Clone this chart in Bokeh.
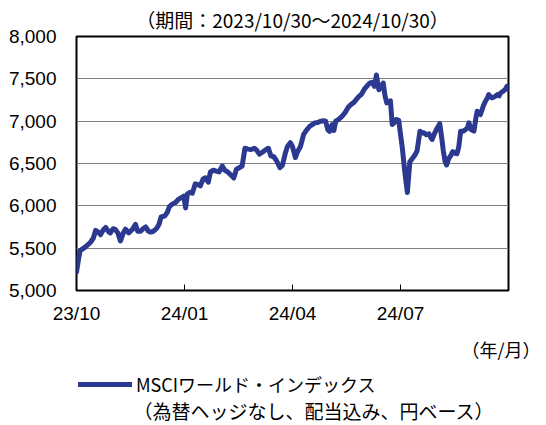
from bokeh.plotting import figure
from bokeh.layouts import column
from bokeh.models import Range1d, FixedTicker, Legend, LegendItem, NumeralTickFormatter, ColumnDataSource, Title, Label
from bokeh.embed import file_html
from bokeh.resources import INLINE

# months elapsed since 2023/10/30
months = [0.00, 0.06, 0.10, 0.25, 0.39, 0.47, 0.53, 0.60, 0.67, 0.75, 0.81, 0.88, 0.94, 1.02, 1.08, 1.15,
          1.22, 1.30, 1.36, 1.45, 1.55, 1.64, 1.70, 1.78, 1.85, 1.92, 2.00, 2.06, 2.14, 2.22, 2.29, 2.35,
          2.45, 2.52, 2.58, 2.66, 2.75, 2.84, 2.92, 2.98, 3.03, 3.08, 3.15, 3.22, 3.30, 3.38, 3.44, 3.52,
          3.58, 3.66, 3.72, 3.80, 3.88, 3.96, 4.05, 4.12, 4.20, 4.30, 4.37, 4.44, 4.52, 4.60, 4.68, 4.76,
          4.85, 4.94, 5.00, 5.08, 5.15, 5.25, 5.33, 5.40, 5.48, 5.56, 5.65, 5.72, 5.80, 5.86, 5.94, 6.00,
          6.08, 6.14, 6.22, 6.31, 6.40, 6.48, 6.55, 6.62, 6.70, 6.78, 6.86, 6.92, 6.98, 7.03, 7.10, 7.15,
          7.20, 7.28, 7.38, 7.46, 7.54, 7.61, 7.70, 7.78, 7.84, 7.92, 8.00, 8.08, 8.15, 8.21, 8.28, 8.33,
          8.40, 8.46, 8.52, 8.57, 8.62, 8.68, 8.72, 8.77, 8.82, 8.88, 8.95, 9.05, 9.12, 9.19, 9.26, 9.33,
          9.40, 9.46, 9.54, 9.60, 9.65, 9.72, 9.79, 9.85, 9.88, 9.94, 10.02, 10.09, 10.14, 10.19, 10.24, 10.28,
          10.34, 10.39, 10.45, 10.52, 10.57, 10.62, 10.67, 10.74, 10.81, 10.86, 10.90, 10.96, 11.04, 11.10, 11.13, 11.18,
          11.22, 11.30, 11.36, 11.42, 11.45, 11.50, 11.55, 11.62, 11.69, 11.74, 11.78, 11.84, 11.87, 11.92, 11.96, 12.00]
msci = [5216, 5380, 5471, 5515, 5570, 5620, 5710, 5690, 5660, 5720, 5745, 5700, 5680, 5730, 5720, 5680,
        5585, 5680, 5725, 5680, 5720, 5780, 5700, 5700, 5730, 5750, 5700, 5690, 5700, 5730, 5780, 5870,
        5880, 5920, 5990, 6020, 6040, 6080, 6100, 6115, 5975, 6140, 6160, 6150, 6260, 6250, 6235, 6320,
        6330, 6280, 6400, 6420, 6410, 6400, 6470, 6420, 6400, 6360, 6330, 6430, 6450, 6470, 6680, 6670,
        6665, 6680, 6660, 6610, 6630, 6660, 6680, 6590, 6580, 6530, 6450, 6480, 6620, 6700, 6745, 6700,
        6570, 6640, 6700, 6843, 6900, 6940, 6960, 6980, 6985, 7000, 7005, 7000, 6900, 6880, 6960, 6890,
        7000, 7020, 7060, 7100, 7160, 7190, 7220, 7260, 7290, 7320, 7380, 7420, 7450, 7460, 7410, 7545,
        7370, 7400, 7450, 7300, 7216, 7230, 7240, 6960, 6980, 7020, 7010, 6686, 6400, 6157, 6520, 6560,
        6600, 6650, 6880, 6860, 6863, 6840, 6850, 6800, 6784, 6850, 6920, 6970, 6820, 6650, 6520, 6482,
        6560, 6588, 6640, 6620, 6616, 6700, 6880, 6880, 6902, 6920, 6980, 6900, 6882, 7050, 7118, 7090,
        7078, 7180, 7235, 7280, 7314, 7290, 7275, 7290, 7314, 7300, 7333, 7350, 7361, 7380, 7412, 7373]

tick_pos = [0, 3, 6, 9]
tick_labels = ["23/10", "24/01", "24/04", "24/07"]
y_ticks = [5000, 5500, 6000, 6500, 7000, 7500, 8000]

title_text = "（期間：2023/10/30～2024/10/30）"
unit_text = "（年/月）"
series_name = "MSCIワールド・インデックス"
series_note = "（為替ヘッジなし、配当込み、円ベース）"

LINE_COLOR = "#2B3990"
NUM_FONT = "Liberation Sans"
JP_FONT = "Noto Sans CJK JP"

p = figure(width=546, height=370, output_backend="svg", toolbar_location=None,
           x_range=Range1d(0, 12), y_range=Range1d(5000, 8000),
           min_border_left=76, min_border_right=38, min_border_top=35, min_border_bottom=80)

src = ColumnDataSource(dict(x=months, y=msci))
r = p.line("x", "y", source=src, line_color=LINE_COLOR, line_width=5, line_join="round", line_cap="round")

p.outline_line_color = "black"
p.outline_line_width = 2
p.background_fill_color = "white"
p.border_fill_color = "white"

p.xgrid.grid_line_color = None
p.ygrid.grid_line_color = "#808080"
p.ygrid.grid_line_width = 1
p.ygrid.ticker = FixedTicker(ticks=y_ticks)

p.xaxis.ticker = FixedTicker(ticks=tick_pos)
p.xaxis.major_label_overrides = {t: l for t, l in zip(tick_pos, tick_labels)}
p.xaxis.axis_line_color = None
p.xaxis.major_tick_in = 6
p.xaxis.major_tick_out = 0
p.xaxis.major_tick_line_color = "black"
p.xaxis.minor_tick_line_color = None
p.xaxis.major_label_standoff = 12
p.xaxis.major_label_text_font = NUM_FONT
p.xaxis.major_label_text_font_size = "19px"
p.xaxis.major_label_text_color = "black"

p.yaxis.ticker = FixedTicker(ticks=y_ticks)
p.yaxis.formatter = NumeralTickFormatter(format="0,0")
p.yaxis.axis_line_color = None
p.yaxis.major_tick_line_color = None
p.yaxis.minor_tick_line_color = None
p.yaxis.major_label_standoff = 14
p.yaxis.major_label_text_font = NUM_FONT
p.yaxis.major_label_text_font_size = "19px"
p.yaxis.major_label_text_color = "black"

p.add_layout(Title(text=title_text, align="center", text_font=JP_FONT, text_font_size="19px",
                   text_font_style="normal", text_color="black", standoff=7), "above")
p.add_layout(Title(text=unit_text, align="right", offset=-32, text_font=JP_FONT, text_font_size="18px",
                   text_font_style="normal", text_color="black", standoff=15), "below")

# lower strip for the legend; its frame lines up with the chart frame (x 76..508)
q = figure(width=546, height=55, output_backend="svg", toolbar_location=None,
           x_axis_location=None, y_axis_location=None,
           x_range=Range1d(76, 508), y_range=Range1d(55, 0),
           min_border_left=76, min_border_right=38, min_border_top=0, min_border_bottom=0)
q.grid.visible = False
q.outline_line_color = None
q.background_fill_color = "white"
q.border_fill_color = "white"

lr = q.line("x", "y", source=src, line_color=LINE_COLOR, line_width=5, line_cap="round")

q.add_layout(Label(x=133, y=40, text=series_note, text_align="left", text_baseline="middle",
                   text_font=JP_FONT, text_font_size="19px", text_color="black"))

legend = Legend(items=[LegendItem(label=series_name, renderers=[lr])], location=(2, 28),
                glyph_width=54, glyph_height=20, label_standoff=4, padding=0, margin=0, spacing=0,
                border_line_color=None, background_fill_alpha=0, label_height=20,
                label_text_font=JP_FONT, label_text_font_size="18px", label_text_color="black")
q.add_layout(legend, "center")

layout = column(p, q, spacing=0)
open("out.html", "w").write(file_html(layout, INLINE))
